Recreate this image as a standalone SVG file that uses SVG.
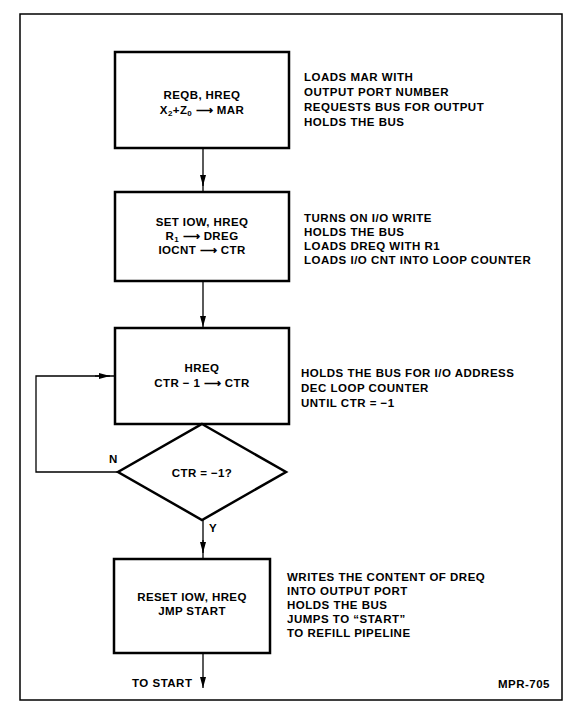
<svg xmlns="http://www.w3.org/2000/svg" width="579" height="709" viewBox="0 0 579 709">
<defs>
<marker id="ah" viewBox="0 0 11 6" refX="11" refY="3" markerWidth="11" markerHeight="6" markerUnits="userSpaceOnUse" orient="auto">
<path d="M0,0 L11,3 L0,6 Z" fill="#000"/>
</marker>
</defs>
<style>
.box{fill:#fff;stroke:#000;stroke-width:2.5}
.ln{fill:none;stroke:#000;stroke-width:1.3}
text{font-family:"Liberation Sans",Arial,sans-serif;font-weight:bold;font-size:11.5px;letter-spacing:0.5px;fill:#000}
.c{text-anchor:middle;font-size:11.5px;letter-spacing:0.4px}
.s{font-size:8px}
</style>
<rect x="0" y="0" width="579" height="709" fill="#fff"/>
<rect x="20" y="14" width="542" height="686" fill="none" stroke="#000" stroke-width="1.5"/>
<g id="connectors">
<line class="ln" x1="203" y1="148" x2="203" y2="192"/>
<line class="ln" x1="203" y1="176" x2="203" y2="186" marker-end="url(#ah)"/>
<line class="ln" x1="203" y1="281" x2="203" y2="327" marker-end="url(#ah)"/>
<polyline class="ln" points="118,472 36,472 36,376 114,376"/>
<line class="ln" x1="95" y1="376" x2="110" y2="376" marker-end="url(#ah)"/>
<line class="ln" x1="203" y1="520" x2="203" y2="559"/>
<line class="ln" x1="203" y1="540" x2="203" y2="553" marker-end="url(#ah)"/>
<line class="ln" x1="203" y1="653" x2="203" y2="688" marker-end="url(#ah)"/>
<text x="109" y="463">N</text>
<text x="209" y="532">Y</text>
<text x="132" y="687">TO START</text>
</g>
<g id="n1">
<rect class="box" x="115" y="52" width="174" height="96"/>
<text class="c" x="202" y="99">REQB, HREQ</text>
<text class="c" x="202" y="114">X<tspan class="s" dy="2">2</tspan><tspan dy="-2">+Z</tspan><tspan class="s" dy="2">0</tspan><tspan dy="-2"> ⟶ MAR</tspan></text>
<text x="304" y="81">LOADS MAR WITH</text>
<text x="304" y="96">OUTPUT PORT NUMBER</text>
<text x="304" y="111">REQUESTS BUS FOR OUTPUT</text>
<text x="304" y="126">HOLDS THE BUS</text>
</g>
<g id="n2">
<rect class="box" x="115" y="192" width="174" height="89"/>
<text class="c" x="202" y="226">SET IOW, HREQ</text>
<text class="c" x="202" y="240">R<tspan class="s" dy="2">1</tspan><tspan dy="-2"> ⟶ DREG</tspan></text>
<text class="c" x="202" y="254">IOCNT ⟶ CTR</text>
<text x="304" y="222">TURNS ON I/O WRITE</text>
<text x="304" y="236">HOLDS THE BUS</text>
<text x="304" y="250">LOADS DREQ WITH R1</text>
<text x="304" y="264">LOADS I/O CNT INTO LOOP COUNTER</text>
</g>
<g id="n3">
<rect class="box" x="115" y="328" width="174" height="96"/>
<text class="c" x="202" y="372">HREQ</text>
<text class="c" x="202" y="387">CTR − 1 ⟶ CTR</text>
<text x="301" y="377">HOLDS THE BUS FOR I/O ADDRESS</text>
<text x="301" y="392">DEC LOOP COUNTER</text>
<text x="301" y="407">UNTIL CTR = −1</text>
</g>
<g id="d1">
<polygon class="box" points="202,424 286,472 202,520 118,472"/>
<text class="c" x="202" y="477">CTR = −1?</text>
</g>
<g id="n4">
<rect class="box" x="114" y="559" width="156" height="94"/>
<text class="c" x="192" y="601">RESET IOW, HREQ</text>
<text class="c" x="192" y="615">JMP START</text>
<text x="287" y="581">WRITES THE CONTENT OF DREQ</text>
<text x="287" y="595">INTO OUTPUT PORT</text>
<text x="287" y="609">HOLDS THE BUS</text>
<text x="287" y="623">JUMPS TO “START”</text>
<text x="287" y="637">TO REFILL PIPELINE</text>
</g>
<text x="550" y="688" text-anchor="end">MPR-705</text>
</svg>
